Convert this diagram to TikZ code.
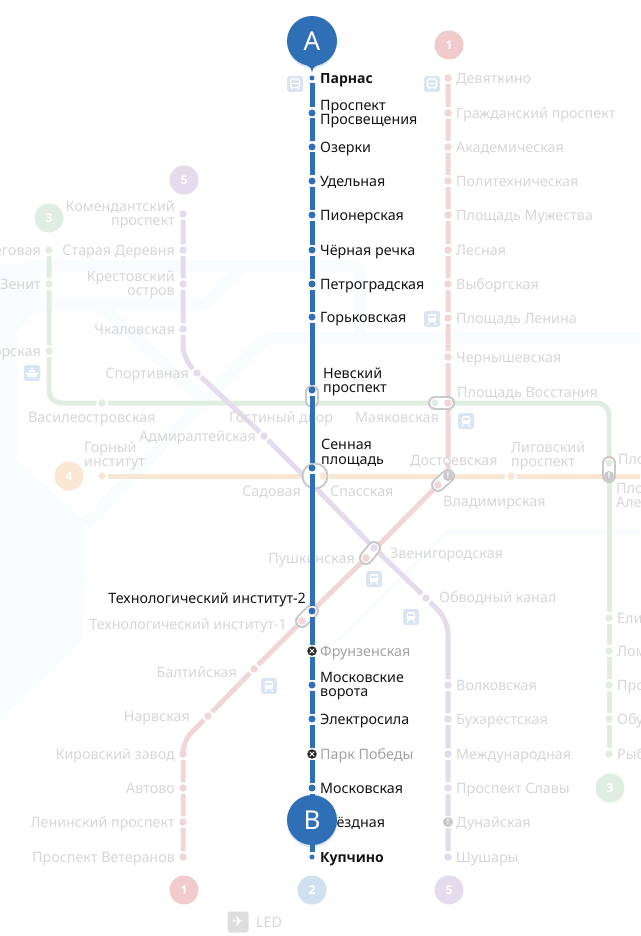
\documentclass[tikz,border=0pt]{standalone}
\usepackage{fontspec}
\setmainfont{Noto Sans}
\newfontfamily\symfont{DejaVu Sans}
\newfontfamily\boldfam{Open Sans}
\usetikzlibrary{backgrounds,shadows}
\definecolor{blueline}{HTML}{2F6FB5}
\definecolor{bluepale}{HTML}{CFE1F0}
\definecolor{redline}{HTML}{F0D6D6}
\definecolor{purline}{HTML}{E4DCEC}
\definecolor{greenline}{HTML}{DFEEE0}
\definecolor{orline}{HTML}{F9E6D3}
\definecolor{paletext}{HTML}{D6D6D6}
\definecolor{greytext}{HTML}{A2A2A2}
\definecolor{pillgrey}{HTML}{C9C9C9}
\definecolor{tileblue}{HTML}{DAE5F3}
\definecolor{water}{HTML}{F8FCFF}
\tikzset{
	st/.style={circle, inner sep=0pt, minimum size=7.5, outer sep=2},
	stb/.style={st, fill=blueline, minimum size=7},
	stbe/.style={st, fill=blueline, minimum size=5, outer sep=3},
	str/.style={st, fill=redline},
	stp/.style={st, fill=purline},
	stg/.style={st, fill=greenline},
	sto/.style={st, fill=orline},
	stw/.style={circle, inner sep=0pt, minimum size=5, fill=white},
	stx/.style={st, fill=black!85, minimum size=9.5, outer sep=1, path picture={
		\draw[white, line width=1pt] ([shift={(-2.2pt,-2.2pt)}]path picture bounding box.center) -- ([shift={(2.2pt,2.2pt)}]path picture bounding box.center);
		\draw[white, line width=1pt] ([shift={(-2.2pt,2.2pt)}]path picture bounding box.center) -- ([shift={(2.2pt,-2.2pt)}]path picture bounding box.center);}},
	stn/.style={st, fill=pillgrey, minimum size=10, outer sep=1, text=white, font=\fontsize{8}{8}\boldfam\bfseries},
	lr/.style={inner sep=0pt, yshift=-2.5pt, anchor=mid west, align=left, text=paletext, font=\fontsize{14.3}{14.5}\selectfont},
	ll/.style={lr, anchor=mid east, align=right},
	lrk/.style={lr, text=black!92},
	lrg/.style={lr, text=greytext},
	lrkb/.style={lrk, font=\fontsize{14}{14.5}\boldfam\bfseries},
	two/.style={anchor=west, yshift=1.5pt},
	twol/.style={anchor=east, yshift=1.5pt},
	lnb/.style={line width=5, blueline},
	lnr/.style={line width=5, redline, rounded corners=12},
	lnp/.style={line width=5, purline, rounded corners=14},
	lng/.style={line width=5, greenline, rounded corners=12},
	lno/.style={line width=5, orline},
	pillout/.style={line width=14, pillgrey, line cap=round, line join=round},
	pillin/.style={line width=10, white, line cap=round, line join=round},
	blob/.style={circle, inner sep=0pt, minimum size=25, draw=pillgrey, line width=2, fill=white},
	numb/.style={circle, inner sep=0pt, minimum size=29, text=white, font=\fontsize{12}{12}\boldfam\bfseries},
	pinb/.style={circle, inner sep=0pt, minimum size=50, fill=blueline, text=white, font=\fontsize{26}{26}\selectfont, drop shadow={shadow xshift=0pt, shadow yshift=-2pt, opacity=.18, fill=blueline}},
	band/.style={water, line width=12, rounded corners=8},
	tile/.style={rounded corners=2.5, inner sep=0pt, minimum size=16, fill=tileblue},
	trainic/.pic={
		\fill[white, rounded corners=1.5] (-4,-5) rectangle (4,3);
		\fill[tileblue] (-2.6,-3.4) rectangle (2.6,-0.6);
		\draw[white, line width=1] (-2.5,3) -- (-4,6) (2.5,3) -- (4,6);},
	busic/.pic={
		\draw[white, line width=1.2, rounded corners=1.5] (-4.5,-5) rectangle (4.5,3.5);
		\draw[white, line width=1] (-4.5,-0.5) -- (4.5,-0.5);
		\draw[white, line width=1.5] (-3,3.5) -- (-3,5.5) (3,3.5) -- (3,5.5);},
	shipic/.pic={
		\fill[white] (-6,0) -- (6,0) -- (4,4) -- (-4,4) -- cycle;
		\fill[white] (-3.5,-1) -- (3.5,-1) -- (2,-3.5) -- (-2,-3.5) -- cycle;
		\fill[white] (-1,-5.5) rectangle (1,-4);},
}
\begin{document}
\begin{tikzpicture}[x=1pt,y=-1pt]
	\useasboundingbox (0,0) rectangle (640,936);

	\coordinate (Rc) at (183,741);
	\coordinate (Pc1) at (183,359);
	\coordinate (Pc2) at (448,620);
	\coordinate (Gc1) at (49,403);
	\coordinate (Gc2) at (609,403);
	\coordinate (Oend) at (640,476);
	\coordinate (G5) at (312,403);
	\coordinate (P7) at (312,484);
	\coordinate (Nv1) at (312,392);
	\coordinate (Nv2) at (312,401);
	\coordinate (Te) at (312,611);

	\node (R1) at (448,78) [str] {};
	\node (R2) at (448,113) [str] {};
	\node (R3) at (448,147) [str] {};
	\node (R4) at (448,181) [str] {};
	\node (R5) at (448,215) [str] {};
	\node (R6) at (448,250) [str] {};
	\node (R7) at (448,284) [str] {};
	\node (R8) at (448,318) [str] {};
	\node (R9) at (448,357) [str] {};
	\node (R10) at (448,403) [str] {};
	\node (R11) at (438,485) [str] {};
	\node (R12) at (366,558) [str] {};
	\node (R13) at (302,621) [str] {};
	\node (R14) at (254,669) [str] {};
	\node (R15) at (208,716) [str] {};
	\node (R16) at (183,754) [str] {};
	\node (R17) at (183,788) [str] {};
	\node (R18) at (183,822) [str] {};
	\node (R19) at (183,857) [str] {};

	\node (P1) at (183,214) [stp] {};
	\node (P2) at (183,250) [stp] {};
	\node (P3) at (183,284) [stp] {};
	\node (P4) at (183,329) [stp] {};
	\node (P5) at (197,373) [stp] {};
	\node (P6) at (264,436) [stp] {};
	\node (P8) at (374,548) [stp] {};
	\node (P9) at (426,598) [stp] {};
	\node (P10) at (448,685) [stp] {};
	\node (P11) at (448,719) [stp] {};
	\node (P12) at (448,754) [stp] {};
	\node (P13) at (448,788) [stp] {};
	\node (P14) at (448,822) [stn] {!};
	\node (P15) at (448,857) [stp] {};

	\node (G1) at (49,250) [stg] {};
	\node (G2) at (49,284) [stg] {};
	\node (G3) at (49,351) [stg] {};
	\node (G4) at (102,403) [stg] {};
	\node (G6) at (435,403) [stg] {};
	\node (G7) at (609,463) [stg] {};
	\node (G8) at (609,618) [stg] {};
	\node (G9) at (609,651) [stg] {};
	\node (G10) at (609,685) [stg] {};
	\node (G11) at (609,719) [stg] {};
	\node (G12) at (609,754) [stg] {};

	\node (O1) at (102,476) [sto] {};
	\node (O2) at (323,476) [sto] {};
	\node (O3) at (448,476) [stn] {!};
	\node (O4) at (511,476) [sto] {};
	\node (O5) at (609,476) [stn] {!};
	\node (R10b) at (448,460) [stw] {};

	\begin{scope}[on background layer]
	\fill[water] (0,262) -- (40,262) -- (40,305) -- (100,305) -- (33,313) -- (17,333) -- (17,460) -- (83,520) -- (85,535) -- (83,640) -- (0,720) -- cycle;
	\draw[band] (30,266) -- (360,266) -- (360,338);
	\draw[band] (240,268) -- (207,304) -- (40,304);
	\draw[band] (100,305) -- (200,397);
	\draw[band] (640,338) -- (265,338) -- (85,525);
	\draw[water, line width=4] (640,532) -- (447,532) -- (338,640);
	\draw[lng] (G1) -- (G2) -- (G3) -- (Gc1) -- (G4) -- (G5) -- (G6) -- (R10) -- (Gc2) -- (G7);
	\draw[lng] (O5) -- (G8) -- (G9) -- (G10) -- (G11) -- (G12);
	\draw[lno] (O1) -- (O2) -- (O3) -- (O4) -- (O5) -- (Oend);
	\draw[lnp] (P1) -- (P2) -- (P3) -- (P4) -- (Pc1) -- (P5) -- (P6) -- (P7) -- (P8) -- (P9) -- (Pc2) -- (P10) -- (P11) -- (P12) -- (P13) -- (P14) -- (P15);
	\draw[lnr] (R1) -- (R2) -- (R3) -- (R4) -- (R5) -- (R6) -- (R7) -- (R8) -- (R9) -- (R10) -- (O3) -- (R11) -- (R12) -- (R13) -- (R14) -- (R15) -- (Rc) -- (R16) -- (R17) -- (R18) -- (R19);
	\draw[pillout] (G6.center) -- (R10.center);
	\draw[pillin] (G6.center) -- (R10.center);
	\draw[pillout] (O3.center) -- (R11.center);
	\draw[pillin] (O3.center) -- (R11.center);
	\draw[pillout] (R12.center) -- (P8.center);
	\draw[pillin] (R12.center) -- (P8.center);
	\draw[pillout] (G7.center) -- (O5.center);
	\draw[pillin] (G7.center) -- (O5.center);
	\draw[pillout] (Nv1) -- (Nv2);
	\draw[pillin] (Nv1) -- (Nv2);
	\node (Se) at (315,476) [blob] {};
	\draw[pillout] (R13.center) -- (Te);
	\draw[pillin] (R13.center) -- (Te);
	\end{scope}

	\node (Rt1) at (456,78) [lr] {Девяткино};
	\node (Rt2) at (456,113) [lr] {Гражданский проспект};
	\node (Rt3) at (456,147) [lr] {Академическая};
	\node (Rt4) at (456,181) [lr] {Политехническая};
	\node (Rt5) at (456,215) [lr] {Площадь Мужества};
	\node (Rt6) at (456,250) [lr] {Лесная};
	\node (Rt7) at (456,284) [lr] {Выборгская};
	\node (Rt8) at (456,318) [lr] {Площадь Ленина};
	\node (Rt9) at (456,357) [lr] {Чернышевская};
	\node (Rt10) at (457,392) [lr] {Площадь Восстания};
	\node (Rt10b) at (410,460) [lr] {Достоевская};
	\node (Rt11) at (443,501) [lr] {Владимирская};
	\node (Rt12) at (355,558) [ll] {Пушкинская};
	\node (Rt13) at (287,624) [ll] {Технологический институт-1};
	\node (Rt14) at (237,672) [ll] {Балтийская};
	\node (Rt15) at (190,716) [ll] {Нарвская};
	\node (Rt16) at (175,754) [ll] {Кировский завод};
	\node (Rt17) at (175,788) [ll] {Автово};
	\node (Rt18) at (175,822) [ll] {Ленинский проспект};
	\node (Rt19) at (175,857) [ll] {Проспект Ветеранов};

	\node (Pt1) at (175,214) [ll, twol] {Комендантский\\проспект};
	\node (Pt2) at (175,250) [ll] {Старая Деревня};
	\node (Pt3) at (175,284) [ll, twol] {Крестовский\\остров};
	\node (Pt4) at (175,329) [ll] {Чкаловская};
	\node (Pt5) at (189,373) [ll] {Спортивная};
	\node (Pt6) at (256,436) [ll] {Адмиралтейская};
	\node (Pt7) at (301,491) [ll] {Садовая};
	\node (Pt8) at (390,553) [lr] {Звенигородская};
	\node (Pt9) at (439,597) [lr] {Обводный канал};
	\node (Pt10) at (456,685) [lr] {Волковская};
	\node (Pt11) at (456,719) [lr] {Бухарестская};
	\node (Pt12) at (456,754) [lr] {Международная};
	\node (Pt13) at (456,788) [lr] {Проспект Славы};
	\node (Pt14) at (456,822) [lr] {Дунайская};
	\node (Pt15) at (456,857) [lr] {Шушары};

	\node (Gt1) at (41,250) [ll] {Беговая};
	\node (Gt2) at (41,284) [ll] {Зенит};
	\node (Gt3) at (41,351) [ll] {Приморская};
	\node (Gt4) at (28,417) [lr] {Василеостровская};
	\node (Gt5) at (229,417) [lr] {Гостиный двор};
	\node (Gt6) at (439,417) [ll] {Маяковская};
	\node (Gt7) at (618,459) [lr] {Площадь Александра Невского-1};
	\node (Gt8) at (617,618) [lr] {Елизаровская};
	\node (Gt9) at (617,651) [lr] {Ломоносовская};
	\node (Gt10) at (617,685) [lr] {Пролетарская};
	\node (Gt11) at (617,719) [lr] {Обуховская};
	\node (Gt12) at (617,754) [lr] {Рыбацкое};

	\node (Ot1) at (84,455) [lr, two] {Горный\\институт};
	\node (Ot2) at (330,491) [lr] {Спасская};
	\node (Ot4) at (511,455) [lr, two] {Лиговский\\проспект};
	\node (Ot5) at (616,496) [lr, two] {Площадь\\Александра Невского-2};

	\node (N1) at (449,45) [numb, fill=redline!95!red] {1};
	\node (N2) at (184,180) [numb, fill=purline] {5};
	\node (N3) at (49,218) [numb, fill=greenline] {3};
	\node (N4) at (69,476) [numb, fill=orline] {4};
	\node (N5) at (610,788) [numb, fill=greenline] {3};
	\node (N6) at (184,890) [numb, fill=redline!95!red] {1};
	\node (N7) at (312,890) [numb, fill=bluepale] {2};
	\node (N8) at (449,890) [numb, fill=purline] {5};

	\node (T1) at (295,84) [tile] {};
	\node (T2) at (432,84) [tile] {};
	\node (T3) at (432,319) [tile] {};
	\node (T4) at (466,421) [tile] {};
	\node (T5) at (374,579) [tile] {};
	\node (T6) at (411,617) [tile] {};
	\node (T7) at (269,686) [tile] {};
	\node (T8) at (32,373) [tile] {};
	\node (T9) at (238,922) [tile, minimum size=21, fill=black!13, text=white, font=\fontsize{14}{14}\symfont] {✈};
	\pic at (T1) {busic};
	\pic at (T2) {busic};
	\pic at (T3) {trainic};
	\pic at (T4) {trainic};
	\pic at (T5) {trainic};
	\pic at (T6) {trainic};
	\pic at (T7) {trainic};
	\pic at (T8) {shipic};
	\node (Tt9) at (256,922) [lr] {LED};

	\node (B1) at (312,78) [stbe] {};
	\node (B2) at (312,113) [stb] {};
	\node (B3) at (312,147) [stb] {};
	\node (B4) at (312,181) [stb] {};
	\node (B5) at (312,215) [stb] {};
	\node (B6) at (312,250) [stb] {};
	\node (B7) at (312,284) [stb] {};
	\node (B8) at (312,317) [stb] {};
	\node (B9) at (312,390) [stb] {};
	\node (B10) at (312,468) [stb] {};
	\node (B11) at (312,611) [stb] {};
	\node (B12) at (312,651) [stx] {};
	\node (B13) at (312,685) [stb] {};
	\node (B14) at (312,719) [stb] {};
	\node (B15) at (312,754) [stx] {};
	\node (B16) at (312,788) [stb] {};
	\node (B17) at (312,822) [stb] {};
	\node (B18) at (312,857) [stbe] {};
	\draw[lnb] (B1) -- (B2) -- (B3) -- (B4) -- (B5) -- (B6) -- (B7) -- (B8) -- (B9) -- (B10) -- (B11) -- (B12) -- (B13) -- (B14) -- (B15) -- (B16) -- (B17) -- (B18);

	\node (Bt1) at (320,78) [lrkb] {Парнас};
	\node (Bt2) at (320,113) [lrk, two] {Проспект\\Просвещения};
	\node (Bt3) at (320,147) [lrk] {Озерки};
	\node (Bt4) at (320,181) [lrk] {Удельная};
	\node (Bt5) at (320,215) [lrk] {Пионерская};
	\node (Bt6) at (320,250) [lrk] {Чёрная речка};
	\node (Bt7) at (320,284) [lrk] {Петроградская};
	\node (Bt8) at (320,317) [lrk] {Горьковская};
	\node (Bt9) at (323,381) [lrk, two] {Невский\\проспект};
	\node (Bt10) at (321,452) [lrk, two] {Сенная\\площадь};
	\node (Bt11) at (306,598) [lrk, anchor=mid east] {Технологический институт-2};
	\node (Bt12) at (320,651) [lrg] {Фрунзенская};
	\node (Bt13) at (320,685) [lrk, two] {Московские\\ворота};
	\node (Bt14) at (320,719) [lrk] {Электросила};
	\node (Bt15) at (320,754) [lrg] {Парк Победы};
	\node (Bt16) at (320,788) [lrk] {Московская};
	\node (Bt17) at (320,822) [lrk] {Звёздная};
	\node (Bt18) at (320,857) [lrkb] {Купчино};

	\fill[blueline] (303,62) -- (310.5,68) -- (312,72) -- (313.5,68) -- (321,62) -- cycle;
	\fill[blueline] (309.5,840) rectangle (314.5,851);
	\node (A) at (312,41) [pinb] {A};
	\node (B) at (312,820) [pinb] {B};
\end{tikzpicture}
\end{document}
